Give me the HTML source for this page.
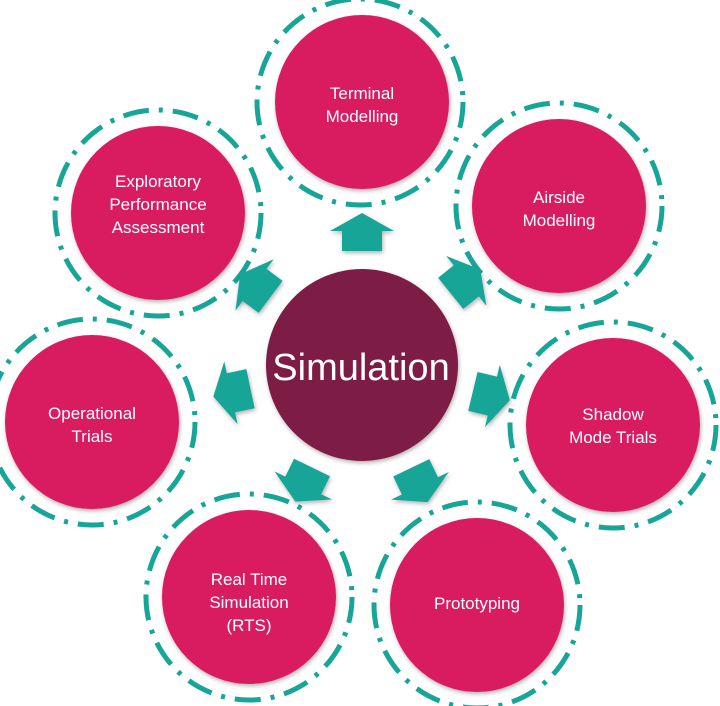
<!DOCTYPE html>
<html><head><meta charset="utf-8"><style>
html,body{margin:0;padding:0;background:#fff;}
svg{display:block;}
text{font-family:"Liberation Sans",sans-serif;fill:#fff;text-anchor:middle;}
</style></head><body>
<svg width="720" height="706" viewBox="0 0 720 706" xmlns="http://www.w3.org/2000/svg">
<defs>
<filter id="sh" x="-20%" y="-20%" width="140%" height="140%"><feDropShadow dx="1" dy="2" stdDeviation="2" flood-opacity="0.3"/></filter>
</defs>
<g fill="none" stroke="#17a597" stroke-width="5" stroke-dasharray="26 10 4 10">
<circle cx="360" cy="102" r="103"/>
<circle cx="559" cy="206" r="103"/>
<circle cx="613" cy="425" r="103"/>
<circle cx="477" cy="605" r="103"/>
<circle cx="249" cy="597" r="103"/>
<circle cx="92" cy="422" r="103"/>
<circle cx="158" cy="213" r="103"/>
</g>
<g fill="#d81f5e" filter="url(#sh)">
<circle cx="362" cy="102" r="87"/>
<circle cx="559" cy="206" r="87"/>
<circle cx="613" cy="425" r="87"/>
<circle cx="477" cy="605" r="87"/>
<circle cx="249" cy="597" r="87"/>
<circle cx="92" cy="422" r="87"/>
<circle cx="158" cy="213" r="87"/>
</g>
<circle cx="362" cy="365" r="96" fill="#7d1d45" filter="url(#sh)"/>
<g fill="#17a597" filter="url(#sh)">
<polygon points="-18,-20 2,-20 2,-32 20,0 2,32 2,20 -18,20" transform="translate(362,365) rotate(-90) translate(132,0)"/>
<polygon points="-18,-20 2,-20 2,-32 20,0 2,32 2,20 -18,20" transform="translate(362,365) rotate(-38.9) translate(132,0)"/>
<polygon points="-18,-20 2,-20 2,-32 20,0 2,32 2,20 -18,20" transform="translate(362,365) rotate(13.4) translate(132,0)"/>
<polygon points="-18,-20 2,-20 2,-32 20,0 2,32 2,20 -18,20" transform="translate(362,365) rotate(64.4) translate(132,0)"/>
<polygon points="-18,-20 2,-20 2,-32 20,0 2,32 2,20 -18,20" transform="translate(362,365) rotate(116) translate(132,0)"/>
<polygon points="-18,-20 2,-20 2,-32 20,0 2,32 2,20 -18,20" transform="translate(362,365) rotate(168) translate(132,0)"/>
<polygon points="-18,-20 2,-20 2,-32 20,0 2,32 2,20 -18,20" transform="translate(362,365) rotate(216.7) translate(132,0)"/>
</g>
<text x="361" y="380" font-size="38">Simulation</text>
<g font-size="17">
<text x="362" y="99">Terminal</text><text x="362" y="122">Modelling</text>
<text x="559" y="203">Airside</text><text x="559" y="226">Modelling</text>
<text x="613" y="420">Shadow</text><text x="613" y="443">Mode Trials</text>
<text x="477" y="609">Prototyping</text>
<text x="249" y="585">Real Time</text><text x="249" y="608">Simulation</text><text x="249" y="631">(RTS)</text>
<text x="92" y="419">Operational</text><text x="92" y="442">Trials</text>
<text x="158" y="187">Exploratory</text><text x="158" y="210">Performance</text><text x="158" y="233">Assessment</text>
</g>
</svg>
</body></html>
